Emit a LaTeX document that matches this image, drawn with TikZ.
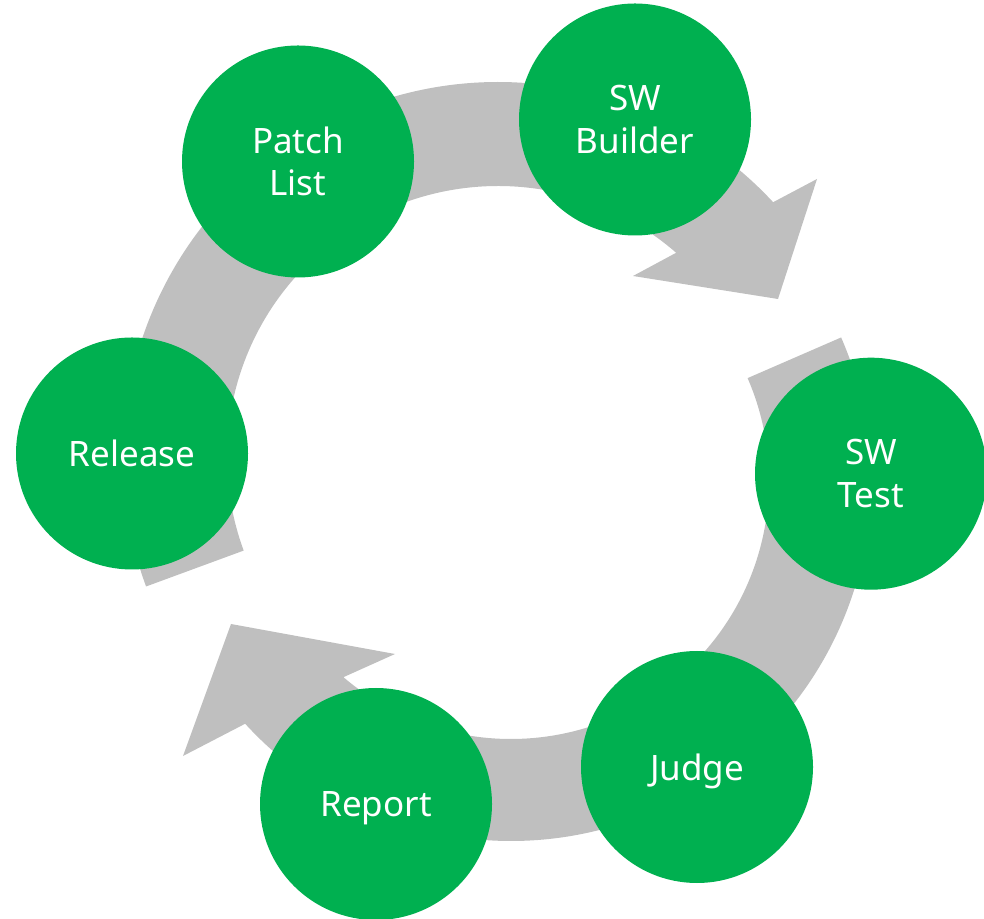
\documentclass[tikz,border=0pt]{standalone}
\usepackage{fontspec}
\setmainfont{Noto Sans}
\usetikzlibrary{calc}
\definecolor{stepgreen}{RGB}{0,176,80}
\definecolor{ringgray}{RGB}{191,191,191}
\begin{document}
\begin{tikzpicture}[x=1pt,y=1pt,
  stage/.style={circle, fill=stepgreen, draw=none, minimum size=232pt, inner sep=0pt,
    text=white, align=center, font=\fontsize{35}{42.6}\selectfont},
  ringarrow/.style={fill=ringgray, draw=none}]
\useasboundingbox (0,0) rectangle (984,918);
% ring centres
\coordinate (c1) at (498,461);
\coordinate (c2) at (511,437);
% head points
\coordinate (h1w) at (817,739);
\coordinate (h1t) at (778,619);
\coordinate (h1i) at (633,642);
\coordinate (h2w) at (183,162);
\coordinate (h2t) at (231,294);
\coordinate (h2i) at (395,264);
% upper arrow (Release -> SW Test)
\fill[ringarrow] ($(c1)+(200.2:375)$) arc[start angle=200.2, end angle=42.8, radius=375]
  -- (h1w) -- (h1t) -- (h1i)
  -- ($(c1)+(48.9:271)$) arc[start angle=48.9, end angle=200.2, radius=271] -- cycle;
% lower arrow (SW Test -> Release)
\fill[ringarrow] ($(c2)+(23.5:360)$) arc[start angle=23.5, end angle=-137.6, radius=360]
  -- (h2w) -- (h2t) -- (h2i)
  -- ($(c2)+(-130.5:258)$) arc[start angle=-130.5, end angle=23.5, radius=258] -- cycle;
% stages
\node[stage] (patch) at (298,756.5) {Patch\\List};
\node[stage] (builder) at (635,798.5) {SW\\Builder};
\node[stage] (test) at (871,444.3) {SW\\Test};
\node[stage] (judge) at (697,151) {\raisebox{0pt}[\height][0pt]{Judge}};
\node[stage] (report) at (376,114) {\raisebox{0pt}[\height][0pt]{Report}};
\node[stage] (release) at (132,464.5) {Release};
\end{tikzpicture}
\end{document}
